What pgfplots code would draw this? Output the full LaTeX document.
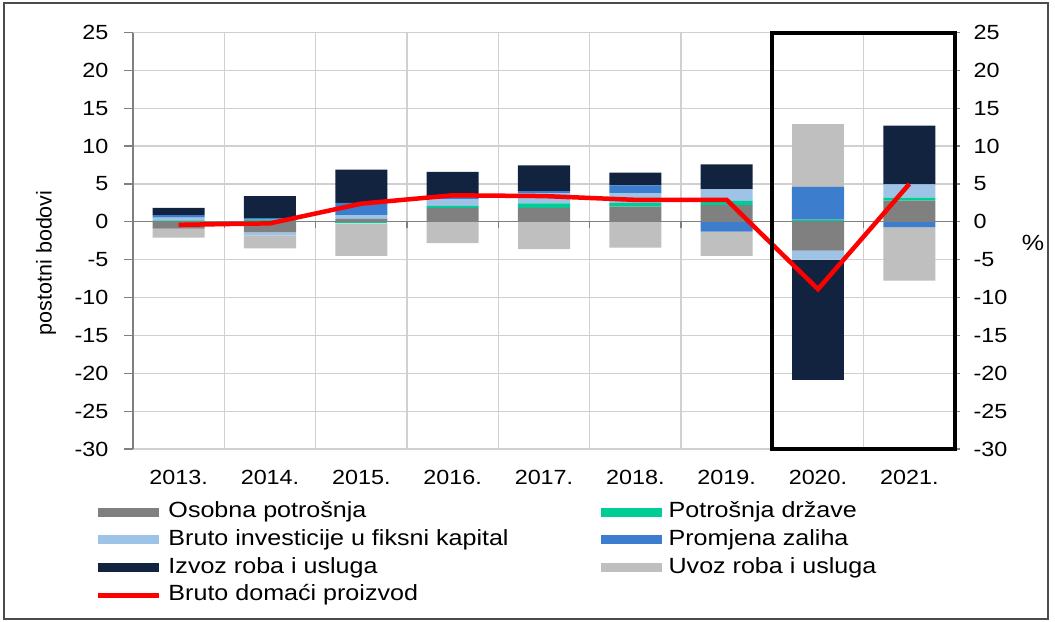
\documentclass[border=0pt]{standalone}
\usepackage{fontspec}
\setmainfont{Liberation Sans}[FakeStretch=1.14]
\newfontfamily\plainfont{Liberation Sans}
\usepackage{pgfplots}
\pgfplotsset{compat=1.18}
\usepackage{pgfplotstable}

\definecolor{cOsob}{RGB}{128,128,128}
\definecolor{cDrz}{RGB}{0,204,150}
\definecolor{cInv}{RGB}{157,195,230}
\definecolor{cZal}{RGB}{61,125,205}
\definecolor{cIzv}{RGB}{18,35,64}
\definecolor{cUvo}{RGB}{191,191,191}
\definecolor{cGrid}{RGB}{208,208,208}
\definecolor{cAxis}{RGB}{128,128,128}

\pgfplotstableread{
x osob drz inv zal izv uvo bdp
0 -0.9 0.2 0.35 0.35 0.95 -1.2 -0.4
1 -1.4 0.3 -0.4 0.2 2.9 -1.7 -0.2
2 0.4 -0.2 0.5 1.6 4.4 -4.3 2.4
3 1.85 0.25 0.9 0.2 3.4 -2.8 3.5
4 1.85 0.6 1.3 0.3 3.4 -3.6 3.4
5 2.0 0.5 1.3 1.0 1.7 -3.4 2.9
6 2.2 0.55 1.55 -1.3 3.3 -3.2 2.9
7 -3.8 0.3 -1.2 4.3 -15.9 8.3 -8.9
8 2.8 0.4 1.75 -0.7 7.75 -7.05 5.0
}\data

\pgfplotsset{
  base/.style={width=822bp,height=416.5bp,scale only axis,
    xmin=-0.5,xmax=8.5,ymin=-30,ymax=25},
  tlfont/.style={font=\fontsize{20.5bp}{24bp}\selectfont},
  barimg/.style={legend image code/.code={\fill[##1] (0bp,-4.5bp) rectangle (61bp,4.5bp);}},
  lineimg/.style={legend image code/.code={\draw[##1] (0bp,0bp) -- (61bp,0bp);}},
}

\begin{document}
\begin{tikzpicture}
\path[use as bounding box] (-133bp,-173bp) rectangle (922bp,449bp);

% Axis A: grid, left axis, positive parts, legend
\begin{axis}[base, ybar stacked, bar width=52bp,
  axis y line*=left, axis x line*=bottom,
  x axis line style={draw=none},
  y axis line style={cAxis,line width=1.2bp},
  ytick={-30,-25,...,25},
  xtick={0,...,8},
  xticklabels={2013.,2014.,2015.,2016.,2017.,2018.,2019.,2020.,2021.},
  major x tick style={draw=none}, minor x tick style={draw=none},
  minor xtick={0.5,1.5,...,7.5},
  xminorgrids, minor x grid style={cGrid,line width=1.2bp},
  ymajorgrids, major y grid style={cGrid,line width=1.2bp},
  tick align=outside, major tick length=9bp,
  y tick style={cAxis,line width=1.2bp},
  tick label style={tlfont},
  xticklabel style={yshift=-9bp},
  yticklabel style={xshift=-12bp},
  /pgf/number format/assume math mode=true,
  ylabel={postotni bodovi},
  ylabel style={font=\plainfont\fontsize{21.5bp}{24bp}\selectfont,
    at={(axis description cs:-0.1058,0.447)}, anchor=center},
  legend columns=2,
  legend cell align=left,
  legend style={at={(0,0)}, anchor=north west, xshift=-37bp, yshift=-52.5bp,
    draw=none, fill=none, inner sep=0pt, outer sep=0pt,
    font=\fontsize{22bp}{26bp}\selectfont,
    nodes={inner sep=0pt, text height=16bp, text depth=5bp},
    row sep=6.8bp,
    /tikz/every odd column/.append style={column sep=7bp},
    /tikz/every even column/.append style={column sep=92bp}},
]
\addplot[fill=cOsob,draw=none,barimg] table[x=x,y expr={max(\thisrow{osob},0)}]{\data};
\addlegendentry{Osobna potrošnja}
\addplot[fill=cDrz,draw=none,barimg] table[x=x,y expr={max(\thisrow{drz},0)}]{\data};
\addlegendentry{Potrošnja države}
\addplot[fill=cInv,draw=none,barimg] table[x=x,y expr={max(\thisrow{inv},0)}]{\data};
\addlegendentry{Bruto investicije u fiksni kapital}
\addplot[fill=cZal,draw=none,barimg] table[x=x,y expr={max(\thisrow{zal},0)}]{\data};
\addlegendentry{Promjena zaliha}
\addplot[fill=cIzv,draw=none,barimg] table[x=x,y expr={max(\thisrow{izv},0)}]{\data};
\addlegendentry{Izvoz roba i usluga}
\addplot[fill=cUvo,draw=none,barimg] table[x=x,y expr={max(\thisrow{uvo},0)}]{\data};
\addlegendentry{Uvoz roba i usluga}
\addlegendimage{red,line width=4.5bp,lineimg}
\addlegendentry{Bruto domaći proizvod}
\end{axis}

% Axis B: negative parts
\begin{axis}[base, ybar stacked, bar width=52bp, hide axis]
\addplot[fill=cOsob,draw=none,forget plot] table[x=x,y expr={min(\thisrow{osob},0)}]{\data};
\addplot[fill=cDrz,draw=none,forget plot] table[x=x,y expr={min(\thisrow{drz},0)}]{\data};
\addplot[fill=cInv,draw=none,forget plot] table[x=x,y expr={min(\thisrow{inv},0)}]{\data};
\addplot[fill=cZal,draw=none,forget plot] table[x=x,y expr={min(\thisrow{zal},0)}]{\data};
\addplot[fill=cIzv,draw=none,forget plot] table[x=x,y expr={min(\thisrow{izv},0)}]{\data};
\addplot[fill=cUvo,draw=none,forget plot] table[x=x,y expr={min(\thisrow{uvo},0)}]{\data};
\end{axis}

% Axis C: right axis, GDP line, zero line, highlight box
\begin{axis}[base,
  axis y line*=right, axis x line=none,
  y axis line style={draw=none},
  ytick={-30,-25,...,25},
  tick align=outside, major tick length=5bp,
  y tick style={cAxis,line width=1.2bp},
  tick label style={tlfont},
  yticklabel style={xshift=10bp},
  /pgf/number format/assume math mode=true,
  clip=false,
]
\draw[cAxis,line width=1.3bp] (axis cs:-0.5,0) -- (axis cs:8.5,0);
\pgfplotsinvokeforeach{0.5,1.5,2.5,3.5,4.5,5.5,6.5,7.5}{
  \draw[cAxis,line width=1.2bp] (axis cs:#1,0) -- ([yshift=-6bp]axis cs:#1,0);
}
\addplot[red,line width=4.5bp,no markers,forget plot] table[x=x,y=bdp]{\data};
\draw[black,line width=4bp] (axis cs:6.5,-30) rectangle (axis cs:8.5,25);
\node[font=\fontsize{22bp}{26bp}\selectfont] at ([xshift=78bp]rel axis cs:1,0.4946) {\%};
\end{axis}

\draw[black!70,line width=1.3bp] (-129bp,-170bp) rectangle (915bp,446bp);
\end{tikzpicture}
\end{document}
